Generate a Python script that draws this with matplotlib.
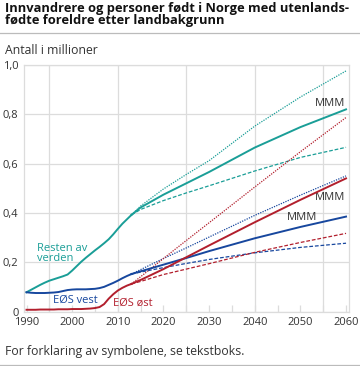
import matplotlib
matplotlib.use("Agg")
import matplotlib.pyplot as plt
from matplotlib.lines import Line2D
from matplotlib.ticker import FuncFormatter, MultipleLocator

plt.rcParams['font.family'] = ['Open Sans', 'DejaVu Sans']

# registrerte tall 1990-2013
hist_years = list(range(1990, 2014))
rest_hist = [0.078, 0.088, 0.098, 0.108, 0.117, 0.125, 0.131, 0.137, 0.143, 0.150,
             0.166, 0.184, 0.202, 0.218, 0.233, 0.248, 0.262, 0.277, 0.293, 0.313,
             0.335, 0.356, 0.374, 0.392]
vest_hist = [0.078, 0.076, 0.075, 0.075, 0.075, 0.076, 0.077, 0.079, 0.083, 0.087,
             0.089, 0.090, 0.090, 0.090, 0.091, 0.092, 0.095, 0.100, 0.108, 0.116,
             0.125, 0.135, 0.144, 0.152]
ost_hist = [0.007, 0.007, 0.007, 0.008, 0.008, 0.008, 0.008, 0.009, 0.009, 0.009,
            0.010, 0.010, 0.010, 0.011, 0.012, 0.014, 0.018, 0.030, 0.052, 0.070,
            0.085, 0.096, 0.105, 0.112]

# framskrivinger: MMM, høy og lav
proj_years = [2013, 2015, 2020, 2025, 2030, 2040, 2050, 2060]
rest_mmm = [0.392, 0.422, 0.474, 0.520, 0.566, 0.665, 0.748, 0.820]
rest_high = [0.392, 0.428, 0.497, 0.556, 0.612, 0.752, 0.870, 0.976]
rest_low = [0.392, 0.414, 0.450, 0.481, 0.510, 0.570, 0.625, 0.666]
vest_mmm = [0.152, 0.163, 0.190, 0.217, 0.245, 0.297, 0.343, 0.385]
vest_high = [0.152, 0.170, 0.215, 0.258, 0.302, 0.390, 0.472, 0.550]
vest_low = [0.152, 0.160, 0.178, 0.195, 0.211, 0.238, 0.260, 0.277]
ost_mmm = [0.112, 0.128, 0.172, 0.220, 0.268, 0.362, 0.453, 0.540]
ost_high = [0.112, 0.141, 0.215, 0.288, 0.360, 0.505, 0.648, 0.787]
ost_low = [0.112, 0.122, 0.150, 0.172, 0.194, 0.240, 0.280, 0.317]

teal = '#1a9e97'
blue = '#17479e'
red = '#b21f2d'
grid_c = '#dcdcdc'
text_c = '#333333'

fig = plt.figure(figsize=(3.6, 3.66), dpi=100)
ax = fig.add_axes([24/360, 54.5/366, 325/360, 246.5/366])

series = [
    (rest_hist, rest_mmm, rest_high, rest_low, teal),
    (vest_hist, vest_mmm, vest_high, vest_low, blue),
    (ost_hist, ost_mmm, ost_high, ost_low, red),
]
for hist, mmm, high, low, col in series:
    ax.plot(proj_years, high, color=col, lw=0.9, ls=(0, (1, 1)), zorder=3)
    ax.plot(proj_years, low, color=col, lw=0.9, ls=(0, (3, 1.5)), zorder=3)
    ax.plot(proj_years, mmm, color=col, lw=1.4, zorder=4)
    ax.plot(hist_years, hist, color=col, lw=1.4, zorder=4)

ax.set_xlim(1989.45, 2060.65)
ax.set_ylim(0, 1.0)

# rutenett
ax.yaxis.set_major_locator(MultipleLocator(0.2))
ax.grid(axis='y', color=grid_c, lw=0.9, zorder=0)
for gx in [1995, 2010, 2025, 2040, 2055]:
    ax.axvline(gx, color=grid_c, lw=0.9, zorder=0)
for sp in ax.spines.values():
    sp.set_color(grid_c)
    sp.set_linewidth(0.9)

ax.xaxis.set_major_locator(MultipleLocator(10))
ax.xaxis.set_minor_locator(MultipleLocator(5))
ax.tick_params(axis='x', which='both', direction='in', length=5, color=grid_c,
               width=0.9, pad=4, labelsize=8, labelcolor=text_c)
ax.tick_params(axis='y', length=0, pad=4, labelsize=8, labelcolor=text_c)
ax.yaxis.set_major_formatter(FuncFormatter(
    lambda v, p: '0' if abs(v) < 1e-9 else f'{v:.1f}'.replace('.', ',')))

# etiketter
ax.text(1992.3, 0.236, 'Resten av\nverden', color=teal, fontsize=8,
        va='center', ha='left', linespacing=0.95)
ax.text(1995.8, 0.046, 'EØS vest', color=blue, fontsize=8, va='center', ha='left')
ax.text(2009.0, 0.034, 'EØS øst', color=red, fontsize=8, va='center', ha='left')
ax.text(2059.8, 0.842, 'MMM', color=text_c, fontsize=8, va='center', ha='right')
ax.text(2059.8, 0.462, 'MMM', color=text_c, fontsize=8, va='center', ha='right')
ax.text(2053.6, 0.381, 'MMM', color=text_c, fontsize=8, va='center', ha='right')

fig.text(5/360, 1 - 2/366, 'Innvandrere og personer født i Norge med utenlands-\n'
         'fødte foreldre etter landbakgrunn', fontsize=9.3, fontweight='bold',
         va='top', ha='left', linespacing=0.92, color='#111111')
fig.add_artist(Line2D([0, 1], [1 - 32.5/366, 1 - 32.5/366], color='#bbbbbb', lw=0.9))
fig.text(5/360, 1 - 51/366, 'Antall i millioner', fontsize=8.8, va='center',
         ha='left', color=text_c)
fig.text(5/360, 1 - 352/366, 'For forklaring av symbolene, se tekstboks.',
         fontsize=8.8, va='center', ha='left', color=text_c)
fig.add_artist(Line2D([0, 1], [1 - 364.5/366, 1 - 364.5/366], color='#bbbbbb', lw=0.9))

fig.savefig('out.png', dpi=100)
